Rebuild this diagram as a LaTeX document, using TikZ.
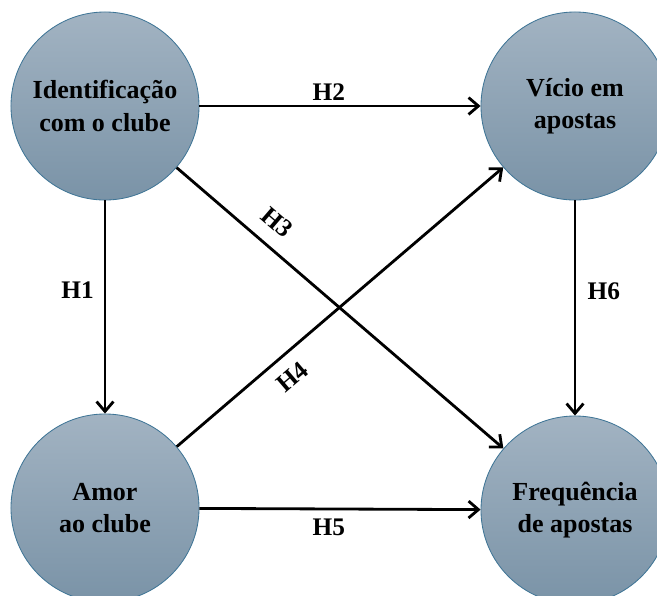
\documentclass[tikz,border=0pt]{standalone}
\usepackage{fontspec}
\setmainfont{Liberation Serif}
\usetikzlibrary{arrows.meta}
\definecolor{circtop}{HTML}{A2B3C2}
\definecolor{circbot}{HTML}{7A93A7}
\definecolor{circline}{HTML}{3F7596}
\tikzset{
    construto/.style={circle, minimum size=4.7cm, inner sep=0pt, draw=circline, line width=0.6pt,
        top color=circtop, bottom color=circbot, align=center,
        font=\bfseries\fontsize{18.5}{23}\selectfont},
    hipotese/.style={line width=2pt, -{Straight Barb[length=7pt, width=12pt, line width=2pt]}},
    rotulo/.style={font=\bfseries\fontsize{18}{20}\selectfont, inner sep=4pt}
}
\begin{document}
\begin{tikzpicture}[x=0.025cm, y=-0.025cm]
        \useasboundingbox (0,0) rectangle (657,595);
        \begin{scope}
            \clip (0,0) rectangle (657,595);
            \node[construto] (ident) at (105,106) {Identificação\\com o clube};
            \node[construto] (vicio) at (575,106) {Vício em\\apostas};
            \node[construto] (amor) at (105,508) {Amor\\ao clube};
            \node[construto] (freq) at (575,510) {Frequência\\de apostas};
        \end{scope}
        \draw[hipotese] (ident) -- node[rotulo, left=3pt, pos=0.42] {H1} (amor);
        \draw[hipotese] (ident) -- node[rotulo, above=-1pt, pos=0.46] {H2} (vicio);
        \draw[hipotese] (ident) -- node[rotulo, above=6pt, sloped, pos=0.26] {H3} (freq);
        \draw[hipotese] (amor) -- node[rotulo, below=5pt, sloped, pos=0.31] {H4} (vicio);
        \draw[hipotese] (amor) -- node[rotulo, below=2pt, pos=0.46] {H5} (freq);
        \draw[hipotese] (vicio) -- node[rotulo, right=4pt, pos=0.42] {H6} (freq);
    \end{tikzpicture}
\end{document}
